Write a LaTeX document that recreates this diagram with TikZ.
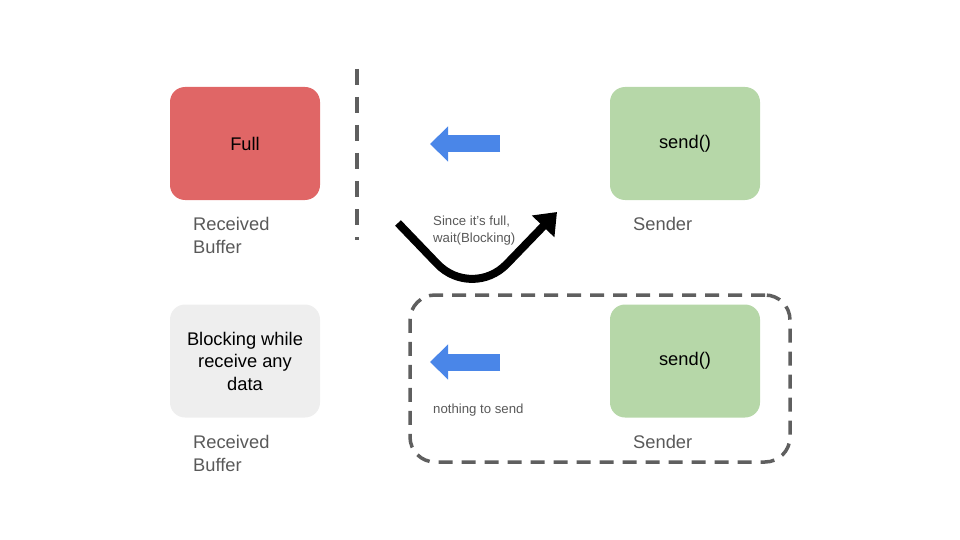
\documentclass[tikz,border=0pt]{standalone}
\usepackage{fontspec}
\setmainfont{Liberation Sans}
\usetikzlibrary{arrows.meta}
\definecolor{redbox}{HTML}{E06666}
\definecolor{greenbox}{HTML}{B6D7A8}
\definecolor{graybox}{HTML}{EEEEEE}
\definecolor{txtgray}{HTML}{595959}
\definecolor{dashgray}{HTML}{5F5F5F}
\definecolor{bluearr}{HTML}{4A86E8}
\tikzset{
  box/.style={minimum width=150pt, minimum height=113pt, rounded corners=15pt, inner sep=0pt,
    align=center, font=\fontsize{18.3}{22.5}\selectfont, text=black},
  caption/.style={anchor=west, align=left, inner sep=0pt, text=txtgray,
    font=\fontsize{18.3}{22.5}\selectfont},
  small/.style={anchor=west, align=left, inner sep=0pt, text=txtgray,
    font=\fontsize{13.2}{17}\selectfont},
  bluearrow/.style={draw=bluearr, line width=17pt, -{Triangle[length=18pt,width=34pt]}, bluearr},
  dashline/.style={draw=dashgray, line width=3.5pt, dash pattern=on 16pt off 12pt},
}
\begin{document}
\begin{tikzpicture}[x=1pt,y=-1pt]
\useasboundingbox (0,0) rectangle (960,540);
% boxes
\node[box, fill=redbox] (full) at (245,143.5) {\raisebox{-1.5pt}{Full}};
\node[box, fill=greenbox] (send1) at (685,143.5) {\raisebox{-1.5pt}{send()}};
\node[box, fill=graybox] (block) at (245,361) {Blocking while\\receive any\\data};
\node[box, fill=greenbox] (send2) at (685,361) {\raisebox{-1.5pt}{send()}};
% captions
\node[caption] (rb1) at (193,235.5) {Received\\Buffer};
\node[caption] (snd1) at (633,224) {Sender};
\node[caption] (rb2) at (193,453.5) {Received\\Buffer};
\node[caption] (snd2) at (633,442) {Sender};
% vertical dashed line
\coordinate (v1) at (357,69);
\coordinate (v2) at (357,240);
\draw[dashline] (v1) -- (v2);
% blue arrows
\coordinate (b1s) at (500,144);
\coordinate (b1e) at (430,144);
\draw[bluearrow] (b1s) -- (b1e);
\coordinate (b2s) at (500,362);
\coordinate (b2e) at (430,362);
\draw[bluearrow] (b2s) -- (b2e);
% curved black arrow
\coordinate (c1) at (398,223);
\coordinate (c2) at (472,300);
\coordinate (c3) at (557,212);
\draw[line width=8pt, rounded corners=50pt, -{Triangle[length=20pt,width=30pt]}] (c1) -- (c2) -- (c3);
\node[small] (since) at (433,230.5) {Since it’s full,\\wait(Blocking)};
% dashed group
\node[draw=dashgray, line width=3.5pt, dash pattern=on 14pt off 9pt, rounded corners=25pt,
  minimum width=380pt, minimum height=167pt, inner sep=0pt] (grp) at (600,378.5) {};
\node[small] (nothing) at (433,410) {nothing to send};
\end{tikzpicture}
\end{document}
